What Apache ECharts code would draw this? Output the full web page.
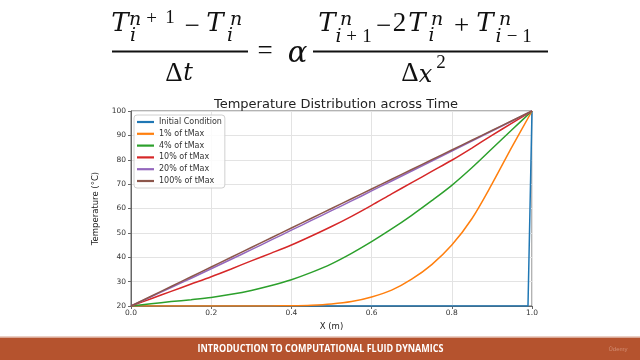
<!DOCTYPE html>
<html>
<head>
<meta charset="utf-8">
<script src="https://cdn.jsdelivr.net/npm/echarts@6/dist/echarts.min.js"></script>
<style>html,body{margin:0;padding:0;background:#fff;}#c{width:640px;height:360px;}</style>
</head>
<body>
<div id="c"></div>
<script>
// ---- data ----
const xs = [0,0.05,0.1,0.15,0.2,0.25,0.3,0.35,0.4,0.45,0.5,0.55,0.6,0.65,0.7,0.75,0.8,0.85,0.9,0.95,1.0];
const initialX = [0, 0.99, 1.0];
const initialT = [20, 20, 100];
const t1  = [20,20,20,20,20,20,20,20.05,20.1,20.3,20.8,21.8,23.7,26.5,31,37,45,55.8,70,85.3,100];
const t4  = [20,20.9,21.8,22.6,23.5,24.8,26.4,28.4,30.8,33.8,37.3,41.6,46.4,51.6,57.2,63.2,69.5,76.7,84.5,92.3,100];
const t10 = [20,23,26,29,32,35.2,38.5,41.7,45,48.7,52.6,56.8,61.3,66,70.6,75.2,79.8,84.8,90,95,100];
const t20 = [20,23.8,27.6,31.4,35.3,39.2,43.1,47.1,51.1,55.1,59.1,63.1,67.2,71.3,75.4,79.5,83.6,87.7,91.8,95.9,100];
const t100= [20,24,28,32,36,40,44,48,52,56,60,64,68,72,76,80,84,88,92,96,100];
const seriesNames = ['Initial Condition','1% of tMax','4% of tMax','10% of tMax','20% of tMax','100% of tMax'];
const colors = ['#1f77b4','#ff7f0e','#2ca02c','#d62728','#9467bd','#8c564b'];
const xTicks = [0, 0.2, 0.4, 0.6, 0.8, 1.0];
const yTicks = [20, 30, 40, 50, 60, 70, 80, 90, 100];

const pair = (xa, ya) => xa.map((x, i) => [x, ya[i]]);
const curves = [pair(initialX, initialT), pair(xs, t1), pair(xs, t4), pair(xs, t10), pair(xs, t20), pair(xs, t100)];

const chart = echarts.init(document.getElementById('c'), null, {renderer: 'canvas'});

const LIB = '"Liberation Serif", serif';
const DJV = '"DejaVu Serif", serif';
// glyph centred at (x, y)
function g(s, x, y, size, fam, italic) {
  return {
    type: 'text', silent: true,
    style: {
      text: s, x: x, y: y,
      font: (italic ? 'italic ' : '') + size + 'px ' + fam,
      fill: '#111', textAlign: 'center', textVerticalAlign: 'middle'
    }
  };
}
const L = (s, x, y) => g(s, x, y, 26, DJV, true);      // main letters
const Ls = (s, x, y) => g(s, x, y, 19, DJV, true);     // script letters
const O = (s, x, y) => g(s, x, y, 27, LIB, false);     // main operators / digits
const Os = (s, x, y) => g(s, x, y, 19, LIB, false);    // script operators / digits
function bar(x1, x2, y) {
  return { type: 'line', silent: true, shape: {x1: x1, y1: y, x2: x2, y2: y}, style: {stroke: '#111', lineWidth: 2.2} };
}

const eq = [
  // left fraction
  L('T', 120, 24), Ls('n', 135, 20), Os('+', 151.5, 19), Os('1', 170, 18.5), Ls('i', 133, 36),
  O('\u2212', 192, 27),
  L('T', 215, 24), Ls('n', 236, 20), Ls('i', 230, 36),
  bar(112, 248, 51.5),
  O('\u0394', 174, 74), g('t', 188, 74, 24, DJV, true),
  O('=', 265, 52),
  g('\u03b1', 297.5, 54, 29, DJV, true),
  // right fraction
  L('T', 327, 24), Ls('n', 346, 20), Ls('i', 338.5, 37.5), Os('+', 351.5, 37.5), Os('1', 367, 37.5),
  O('\u2212', 383.5, 27),
  O('2', 399.5, 24), L('T', 417, 24), Ls('n', 437, 20), Ls('i', 431.5, 36),
  O('+', 461.5, 27),
  L('T', 485, 24), Ls('n', 505, 20), Ls('i', 498.5, 37.5), Os('\u2212', 512, 37.5), Os('1', 527, 37.5),
  bar(313, 548, 51.5),
  O('\u0394', 410, 74), g('x', 425.5, 76, 24, DJV, true), Os('2', 441, 63)
];

const footer = [
  { type: 'rect', silent: true, shape: {x: 0, y: 337.5, width: 640, height: 23}, style: {fill: '#B5532E'} },
  { type: 'line', silent: true, shape: {x1: 0, y1: 336.5, x2: 640, y2: 336.5}, style: {stroke: '#EBCFC4', lineWidth: 1} },
  { type: 'text', silent: true, x: 320.5, y: 349, scaleX: 0.9,
    style: {text: 'INTRODUCTION TO COMPUTATIONAL FLUID DYNAMICS', x: 0, y: 0, font: 'bold 10px "Open Sans", "Liberation Sans", sans-serif', fill: '#ffffff', textAlign: 'center', textVerticalAlign: 'middle'} },
  { type: 'text', silent: true, style: {text: '\u00dbdemy', x: 618, y: 349, font: '6px "Liberation Sans", sans-serif', fill: '#D38E74', textAlign: 'center', textVerticalAlign: 'middle'} }
];

const option = {
  animation: false,
  backgroundColor: '#ffffff',
  title: {
    text: 'Temperature Distribution across Time',
    left: 331, top: 93, textAlign: 'center',
    textStyle: {fontFamily: 'DejaVu Sans', fontSize: 13, fontWeight: 'normal', color: '#222'}
  },
  grid: {left: 131, right: 108, top: 111, bottom: 54, show: true, borderColor: '#666', borderWidth: 1, backgroundColor: '#fff'},
  legend: {
    data: seriesNames, orient: 'vertical', left: 134, top: 115,
    icon: 'rect', itemWidth: 17, itemHeight: 2.2, itemGap: 1.8,
    padding: [2, 3, 2, 3],
    borderColor: '#d0d0d0', borderWidth: 1, borderRadius: 3, backgroundColor: 'rgba(255,255,255,0.85)',
    textStyle: {fontFamily: 'DejaVu Sans', fontSize: 8, color: '#333', lineHeight: 10}
  },
  xAxis: {
    type: 'value', min: 0, max: 1, interval: 0.2,
    name: 'X (m)', nameLocation: 'middle', nameGap: 15,
    nameTextStyle: {fontFamily: 'DejaVu Sans', fontSize: 8.5, color: '#222'},
    axisLine: {show: true, lineStyle: {color: '#666', width: 1}},
    axisTick: {show: true, length: 3, lineStyle: {color: '#666'}},
    axisLabel: {fontFamily: 'DejaVu Sans', fontSize: 7.5, color: '#333', margin: 3,
      formatter: v => xTicks.some(t => Math.abs(t - v) < 1e-9) ? v.toFixed(1) : ''},
    splitLine: {show: true, lineStyle: {color: '#e3e3e3', width: 1}}
  },
  yAxis: {
    type: 'value', min: 20, max: 100, interval: 10,
    name: 'Temperature (\u00b0C)', nameLocation: 'middle', nameGap: 20,
    nameTextStyle: {fontFamily: 'DejaVu Sans', fontSize: 8.5, color: '#222'},
    axisLine: {show: true, lineStyle: {color: '#666', width: 1}},
    axisTick: {show: true, length: 3, lineStyle: {color: '#666'}},
    axisLabel: {fontFamily: 'DejaVu Sans', fontSize: 7.5, color: '#333', margin: 5,
      formatter: v => yTicks.includes(v) ? String(v) : ''},
    splitLine: {show: true, lineStyle: {color: '#e3e3e3', width: 1}}
  },
  series: curves.map((d, i) => ({
    name: seriesNames[i], type: 'line', data: d,
    showSymbol: false, symbol: 'none',
    smooth: i === 0 ? false : 0.3,
    lineStyle: {color: colors[i], width: 1.5},
    itemStyle: {color: colors[i]},
    z: 2 + i
  })),
  graphic: eq.concat(footer)
};
chart.setOption(option);
</script>
</body>
</html>
